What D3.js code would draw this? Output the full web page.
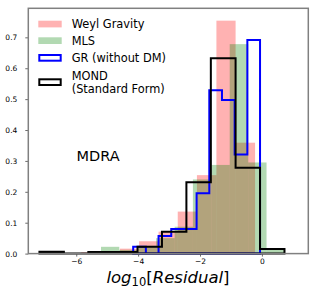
<!DOCTYPE html>
<html>
<head>
<meta charset="utf-8">
<script src="https://cdn.jsdelivr.net/npm/d3@7"></script>
<style>
  body { margin: 0; background: #fff; }
  svg { display: block; font-family: "DejaVu Sans", sans-serif; }
</style>
</head>
<body>
<div id="chart"></div>
<script>
// bin edges (log10 residual) and densities
const weylEdges = [-5.84, -5.22, -4.59, -3.97, -3.34, -2.72, -2.10, -1.47, -0.85, -0.22];
const weylDensity = [0.004, 0.004, 0.016, 0.04, 0.071, 0.136, 0.254, 0.754, 0.359];

const mlsEdges = [-5.20, -4.61, -4.01, -3.42, -2.82, -2.23, -1.63, -1.04, -0.44, 0.15, 0.75];
const mlsDensity = [0.022, 0.012, 0.025, 0.05, 0.087, 0.24, 0.287, 0.678, 0.295, 0.014];

const grEdges = [-4.16, -3.75, -3.34, -2.93, -2.52, -2.11, -1.70, -1.29, -0.88, -0.47, -0.06];
const grDensity = [0.022, 0, 0.057, 0.08, 0.08, 0.195, 0.529, 0.497, 0.321, 0.691];

const mondEdges = [-7.19, -6.40, -5.61, -4.81, -4.02, -3.23, -2.44, -1.65, -0.85, -0.06, 0.73];
const mondDensity = [0.006, 0, 0.005, 0.005, 0.022, 0.071, 0.231, 0.632, 0.278, 0.015];

const xTicks = [-6, -4, -2, 0];
const yTicks = [0, 0.1, 0.2, 0.3, 0.4, 0.5, 0.6, 0.7];

const width = 318;
const height = 300;
const plotLeft = 28.3, plotRight = 308.3, plotTop = 8.3, plotBottom = 253.6;

const svg = d3.select('#chart')
  .append('svg')
  .attr('width', width)
  .attr('height', height);

const x = d3.scaleLinear().domain([-7.55, 1.5]).range([plotLeft, plotRight]);
const y = d3.scaleLinear().domain([0, 0.794]).range([plotBottom, plotTop]);

const bins = (edges, vals) => vals.map((v, i) => ({ x0: edges[i], x1: edges[i + 1], v }));

function drawBars(edges, vals, color) {
  svg.append('g')
    .selectAll('rect')
    .data(bins(edges, vals))
    .enter()
    .append('rect')
    .attr('x', d => x(d.x0))
    .attr('width', d => x(d.x1) - x(d.x0))
    .attr('y', d => y(d.v))
    .attr('height', d => y(0) - y(d.v))
    .attr('fill', color)
    .attr('fill-opacity', 0.3);
}

function drawStep(edges, vals, color) {
  const pts = [[edges[0], 0]];
  vals.forEach((v, i) => {
    pts.push([edges[i], v]);
    pts.push([edges[i + 1], v]);
  });
  pts.push([edges[edges.length - 1], 0]);

  const line = d3.line()
    .x(d => x(d[0]))
    .y(d => y(d[1]));

  svg.append('path')
    .attr('d', line(pts) + 'Z')
    .attr('fill', 'none')
    .attr('stroke', color)
    .attr('stroke-width', 2)
    .attr('stroke-linejoin', 'miter');
}

drawBars(weylEdges, weylDensity, 'red');
drawBars(mlsEdges, mlsDensity, 'green');
drawStep(grEdges, grDensity, 'blue');
drawStep(mondEdges, mondDensity, 'black');

// axes
const xAxis = svg.append('g')
  .attr('transform', `translate(0,${plotBottom})`)
  .call(d3.axisBottom(x).tickValues(xTicks).tickSize(3).tickPadding(2));

const yAxis = svg.append('g')
  .attr('transform', `translate(${plotLeft},0)`)
  .call(d3.axisLeft(y).tickValues(yTicks).tickFormat(d3.format('.1f')).tickSize(3).tickPadding(8));

[xAxis, yAxis].forEach(a => {
  a.select('.domain').remove();
  a.selectAll('line').attr('stroke', '#444').attr('stroke-width', 0.8);
  a.selectAll('text')
    .attr('font-family', '"DejaVu Sans", sans-serif')
    .attr('font-size', '7.5px')
    .attr('fill', '#000');
});

svg.append('rect')
  .attr('x', plotLeft)
  .attr('y', plotTop)
  .attr('width', plotRight - plotLeft)
  .attr('height', plotBottom - plotTop)
  .attr('fill', 'none')
  .attr('stroke', '#808080')
  .attr('stroke-width', 1.5);

// x label
const xl = svg.append('text')
  .attr('x', 168)
  .attr('y', 282.5)
  .attr('text-anchor', 'middle')
  .attr('font-size', '16.5px')
  .attr('fill', '#000');
xl.append('tspan').attr('font-style', 'italic').text('log');
xl.append('tspan').attr('font-size', '11.5px').attr('dy', 3.5).text('10');
xl.append('tspan').attr('dy', -3.5).text('[');
xl.append('tspan').attr('font-style', 'italic').text('Residual');
xl.append('tspan').text(']');

// annotation
svg.append('text')
  .attr('x', 76.5)
  .attr('y', 160.7)
  .attr('font-size', '14.5px')
  .attr('fill', '#000')
  .text('MDRA');

// legend
const legend = svg.append('g').attr('class', 'legend');
const hx = 38.3, hw = 23.4, hh = 6.7, tx = 71.7;

legend.append('rect').attr('x', hx).attr('y', 20.7).attr('width', hw).attr('height', hh)
  .attr('fill', 'red').attr('fill-opacity', 0.3);
legend.append('rect').attr('x', hx).attr('y', 37.3).attr('width', hw).attr('height', hh)
  .attr('fill', 'green').attr('fill-opacity', 0.3);
legend.append('rect').attr('x', hx + 1).attr('y', 55).attr('width', hw - 2).attr('height', hh - 1)
  .attr('fill', 'none').attr('stroke', 'blue').attr('stroke-width', 2);
legend.append('rect').attr('x', hx + 1).attr('y', 79.3).attr('width', hw - 2).attr('height', hh - 1)
  .attr('fill', 'none').attr('stroke', 'black').attr('stroke-width', 2);

const labels = [
  ['Weyl Gravity', 24],
  ['MLS', 40.7],
  ['GR (without DM)', 57.7],
  ['MOND', 75.4],
  ['(Standard Form)', 89]
];
legend.selectAll('text.lab')
  .data(labels)
  .enter()
  .append('text')
  .attr('class', 'lab')
  .attr('x', tx)
  .attr('y', d => d[1])
  .attr('dy', '0.36em')
  .attr('font-size', '11.4px')
  .attr('fill', '#000')
  .text(d => d[0]);
</script>
</body>
</html>
